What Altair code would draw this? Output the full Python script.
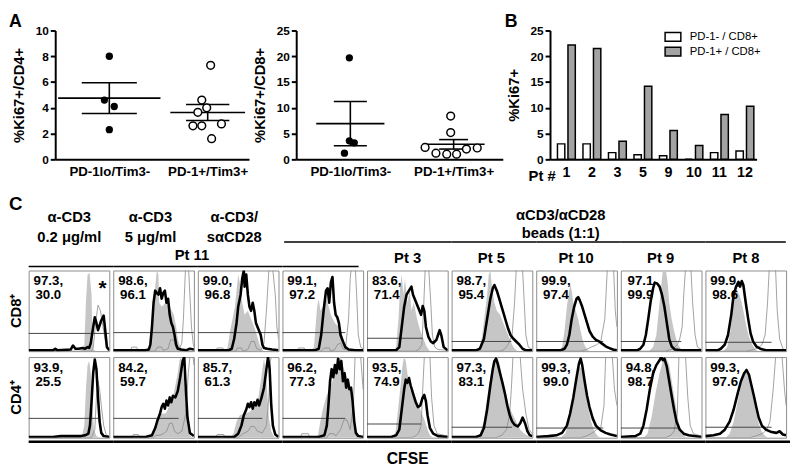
import altair as alt
import pandas as pd

FONT = "Liberation Sans"

# ---------------- Panel A data ----------------
group_names = ["PD-1lo/Tim3-", "PD-1+/Tim3+"]
a1_lo = [8.0, 4.6, 4.1, 2.3]
a1_lo_jit = [0, -5, 5, 0]
a1_hi = [7.3, 4.6, 3.65, 4.0, 2.6, 2.6, 2.75, 1.6]
a1_hi_jit = [3, -6, -10, -1, -15, -6, 14, 4]
a2_lo = [19.7, 3.6, 3.2, 1.2]
a2_lo_jit = [-1, -1, 4, -6]
a2_hi = [8.4, 5.2, 2.3, 1.2, 1.0, 1.0, 2.0, 2.2]
a2_hi_jit = [-3, -3, -29, -18, -7, 3, 13, 24]

# ---------------- Panel B data ----------------
pts = ["1", "2", "3", "5", "9", "10", "11", "12"]
pd1_neg = [3.0, 3.0, 1.3, 0.9, 0.7, 0.0, 1.3, 1.6]
pd1_pos = [22.2, 21.5, 3.5, 14.2, 5.6, 2.7, 8.7, 10.3]
series = ["PD-1- / CD8+", "PD-1+ / CD8+"]
series_fill = ["white", "#a3a3a3"]

# ---------------- Panel C data (CFSE histograms, x/y in % of panel) ----------------
grey_cd8 = [
    [[0,0],[62,0],[66,1],[69,8],[71,60],[73,95],[75.5,97],[78,70],[79,20],[80,3],[83,0],[100,0]],
    [[0,0],[40,0],[44,3],[47,20],[50,45],[52,80],[54,100],[56,95],[57,60],[60,55],[65,60],[70,55],[75,45],[78,30],[80,15],[83,5],[86,0],[100,0]],
    [[0,0],[34,0],[37,5],[40,25],[43,40],[46,55],[48,75],[50,95],[52,85],[55,60],[58,45],[62,50],[66,40],[70,30],[73,20],[76,10],[79,3],[82,0],[100,0]],
    [[0,0],[35,0],[39,5],[41,30],[43,55],[45,65],[47,50],[50,55],[53,70],[56,60],[60,45],[65,35],[70,30],[74,20],[77,10],[80,3],[84,0],[100,0]],
    [[0,0],[32,0],[36,5],[39,40],[41,80],[43,95],[45,70],[47,90],[50,60],[53,75],[55,50],[58,60],[62,40],[66,25],[70,15],[74,5],[78,0],[100,0]],
    [[0,0],[30,0],[35,5],[38,20],[41,45],[44,70],[46,95],[48,100],[50,80],[53,60],[56,50],[60,45],[64,35],[68,25],[72,15],[75,8],[78,3],[82,0],[100,0]],
    [[0,0],[28,0],[32,5],[35,25],[38,55],[40,70],[42,83],[44,75],[46,60],[49,50],[52,40],[55,25],[58,12],[61,5],[64,1],[68,0],[100,0]],
    [[0,0],[35,0],[40,5],[44,20],[47,50],[50,80],[52,100],[56,100],[58,85],[60,60],[63,40],[66,25],[70,10],[74,3],[78,0],[100,0]],
    [[0,0],[22,0],[27,5],[31,25],[34,55],[37,80],[39,75],[42,70],[45,60],[48,45],[51,30],[54,18],[58,8],[62,2],[66,0],[100,0]],
]
thin_cd8 = [
    [[0,0],[78,0],[80,4],[83,35],[86,57],[89,50],[93,25],[96,8],[99,2],[100,1]],
    [[0,0],[21,0],[23,5],[29,5],[31,0],[52,0],[55,5],[60,5],[62,1],[68,3],[71,14],[75,14],[78,4],[82,2],[85,10],[87,40],[89,90],[90,110],[93,110],[95,70],[97,30],[99,10],[100,5]],
    [[0,0],[22,0],[24,4],[31,4],[33,0],[47,0],[49,4],[54,4],[56,0],[62,2],[66,12],[70,12],[73,3],[78,1],[82,10],[85,50],[88,100],[92,110],[96,70],[98,30],[100,15]],
    [[0,0],[18,0],[20,4],[27,4],[29,0],[48,0],[52,4],[58,4],[60,0],[65,2],[68,8],[72,10],[75,3],[78,2],[82,40],[84,90],[86,110],[90,110],[92,70],[94,20],[97,5],[100,3]],
    [[0,0],[60,0],[64,2],[68,8],[70,50],[72,100],[76,110],[79,60],[81,20],[84,5],[88,2],[100,1]],
    [[0,0],[60,0],[65,2],[70,8],[75,20],[78,60],[80,100],[84,110],[88,100],[90,60],[92,20],[95,5],[100,2]],
    [[0,0],[55,0],[62,2],[68,5],[75,8],[80,12],[85,40],[88,100],[92,110],[96,100],[98,50],[100,30]],
    [[0,0],[55,0],[65,3],[70,8],[73,15],[76,30],[78,70],[80,100],[84,110],[87,100],[89,60],[92,20],[95,5],[100,2]],
    [[0,0],[50,0],[60,2],[65,4],[70,8],[74,20],[77,60],[79,100],[83,110],[87,100],[89,50],[92,15],[96,3],[100,1]],
]
black_cd8 = [
    [[0,1],[30,1],[33,3],[36,1],[52,2],[55,7],[58,3],[62,3],[67,4],[70,3],[73,5],[75,4],[77,10],[80,30],[82,42],[84,35],[86,26],[90,38],[93,44],[95,25],[97,5],[100,1]],
    [[0,1],[40,1],[44,2],[46,8],[48,30],[50,60],[52,75],[54,72],[56,70],[58,78],[60,65],[62,72],[64,75],[66,60],[68,65],[70,45],[72,35],[74,30],[76,20],[78,8],[80,3],[84,2],[90,1],[95,3],[100,2]],
    [[0,1],[38,1],[42,3],[45,15],[48,35],[50,55],[53,70],[55,90],[57,100],[58,80],[60,95],[62,70],[64,55],[66,50],[68,60],[70,50],[72,35],[74,30],[76,25],[78,20],[80,8],[82,4],[86,3],[92,2],[100,1]],
    [[0,1],[40,1],[45,3],[48,20],[51,50],[54,75],[56,78],[58,60],[60,85],[62,92],[64,60],[66,45],[68,42],[70,35],[72,20],[75,12],[78,5],[82,2],[90,1],[100,1]],
    [[0,1],[36,1],[40,5],[43,30],[46,55],[49,70],[52,75],[55,80],[57,70],[59,65],[61,60],[63,55],[65,50],[67,45],[69,56],[71,50],[73,30],[76,18],[79,12],[82,10],[84,12],[86,14],[88,20],[90,26],[92,20],[95,5],[100,1]],
    [[0,1],[30,1],[35,3],[40,15],[44,40],[48,65],[51,78],[53,82],[56,75],[59,65],[62,55],[65,45],[67,38],[70,28],[73,20],[76,16],[80,12],[84,8],[88,3],[92,1],[100,1]],
    [[0,1],[30,1],[35,3],[38,8],[41,20],[44,40],[47,55],[50,65],[52,67],[54,63],[57,55],[60,45],[63,35],[66,25],[70,18],[74,14],[78,12],[82,9],[86,6],[90,4],[95,2],[100,1]],
    [[0,1],[20,1],[24,3],[28,8],[31,20],[34,40],[37,62],[40,78],[42,85],[45,84],[48,80],[51,70],[54,55],[57,35],[60,15],[63,6],[67,2],[75,1],[100,1]],
    [[0,1],[15,1],[19,3],[24,8],[28,20],[32,45],[35,70],[38,80],[41,86],[43,80],[45,87],[47,82],[50,60],[53,40],[56,22],[59,12],[63,6],[68,3],[75,1],[100,1]],
]
grey_cd4 = [
    [[0,0],[60,0],[66,2],[69,15],[71,60],[73,90],[75,95],[77,80],[79,40],[81,10],[84,2],[88,0],[100,0]],
    [[0,0],[42,0],[47,3],[52,15],[56,25],[60,30],[65,30],[70,40],[75,55],[78,70],[80,80],[82,95],[84,100],[86,90],[88,70],[90,40],[92,15],[95,3],[98,0],[100,0]],
    [[0,0],[40,0],[44,5],[48,20],[52,28],[58,30],[64,32],[70,38],[75,50],[78,70],[80,85],[82,98],[84,85],[86,55],[88,25],[91,8],[95,0],[100,0]],
    [[0,0],[40,0],[44,3],[47,20],[50,35],[54,50],[58,60],[62,70],[66,85],[69,100],[72,100],[75,90],[78,80],[82,70],[86,55],[88,35],[90,15],[93,3],[96,0],[100,0]],
    [[0,0],[30,0],[35,5],[38,30],[41,60],[44,90],[46,100],[48,95],[50,80],[53,60],[56,55],[60,50],[64,40],[68,30],[72,20],[75,10],[78,3],[82,0],[100,0]],
    [[0,0],[30,0],[35,5],[40,20],[44,50],[48,75],[52,90],[55,98],[57,100],[60,90],[63,70],[67,55],[71,40],[75,30],[80,20],[85,10],[90,5],[95,2],[100,0]],
    [[0,0],[30,0],[36,5],[42,25],[46,50],[50,75],[54,88],[57,85],[60,65],[64,40],[68,20],[72,8],[76,2],[80,0],[100,0]],
    [[0,0],[28,0],[33,5],[38,25],[43,55],[48,80],[52,95],[56,100],[60,90],[64,65],[68,40],[72,18],[76,6],[80,1],[84,0],[100,0]],
    [[0,0],[25,0],[30,5],[35,20],[40,45],[45,70],[50,82],[54,75],[58,55],[62,35],[66,18],[70,7],[74,2],[78,0],[100,0]],
]
thin_cd4 = [
    [[0,0],[78,0],[82,10],[84,50],[86,70],[88,60],[90,40],[93,15],[96,4],[100,1]],
    [[0,0],[23,0],[25,4],[31,4],[33,0],[50,0],[53,3],[58,3],[62,5],[66,8],[70,18],[73,18],[76,8],[80,5],[85,8],[90,30],[93,80],[96,110],[99,100],[100,90]],
    [[0,0],[22,0],[24,4],[32,4],[34,0],[50,0],[56,5],[62,8],[66,14],[70,14],[74,8],[80,6],[85,15],[88,50],[90,95],[93,110],[97,110],[100,100]],
    [[0,0],[22,0],[24,5],[32,5],[34,0],[55,0],[58,5],[64,5],[66,2],[72,10],[76,22],[80,22],[84,10],[88,40],[90,100],[93,110],[97,100],[100,60]],
    [[0,0],[55,0],[60,2],[64,6],[67,15],[69,60],[71,100],[75,110],[78,100],[80,50],[83,15],[87,5],[100,2]],
    [[0,0],[55,0],[62,3],[68,10],[72,30],[74,60],[76,100],[80,110],[85,100],[88,60],[92,30],[96,10],[100,5]],
    [[0,0],[55,0],[62,2],[68,5],[75,10],[80,12],[84,40],[86,100],[90,110],[94,105],[97,60],[100,40]],
    [[0,0],[55,0],[62,3],[66,8],[70,30],[72,100],[76,110],[80,105],[83,50],[86,15],[90,5],[100,2]],
    [[0,0],[55,0],[65,3],[72,6],[76,10],[80,20],[84,60],[87,100],[91,110],[95,100],[98,60],[100,40]],
]
black_cd4 = [
    [[0,1],[30,1],[40,2],[55,2],[65,2],[70,3],[74,5],[76,15],[78,45],[80,80],[82,97],[84,85],[86,50],[88,20],[90,6],[93,2],[100,1]],
    [[0,1],[40,1],[48,3],[52,12],[55,22],[58,30],[60,38],[62,42],[64,36],[66,46],[68,40],[70,50],[72,44],[74,52],[77,50],[80,58],[83,75],[86,95],[88,100],[90,60],[92,25],[95,6],[100,2]],
    [[0,1],[45,1],[50,5],[54,15],[57,28],[60,35],[62,42],[64,38],[66,44],[68,36],[70,44],[72,40],[74,47],[76,40],[79,50],[82,62],[85,85],[87,100],[89,85],[91,40],[93,15],[96,4],[100,1]],
    [[0,1],[45,1],[52,3],[55,15],[57,40],[59,70],[61,85],[63,75],[65,90],[67,80],[69,98],[71,85],[73,95],[75,70],[77,80],[79,62],[81,72],[83,60],[85,62],[87,45],[89,20],[91,6],[94,2],[100,1]],
    [[0,1],[30,1],[36,3],[40,10],[43,35],[46,60],[48,72],[50,68],[52,74],[54,65],[57,55],[60,45],[63,38],[66,40],[69,50],[71,53],[73,45],[75,28],[78,12],[82,5],[88,2],[100,1]],
    [[0,1],[30,1],[36,3],[40,12],[44,35],[48,65],[51,85],[53,95],[55,98],[57,92],[60,80],[63,68],[66,55],[69,40],[72,28],[75,20],[78,16],[82,14],[85,18],[88,25],[91,18],[94,8],[97,3],[100,2]],
    [[0,1],[15,2],[25,3],[32,6],[38,15],[42,30],[46,50],[50,75],[53,92],[55,98],[57,90],[60,70],[63,52],[66,38],[70,24],[74,15],[80,9],[86,6],[92,4],[100,2]],
    [[0,1],[18,2],[24,5],[28,15],[32,35],[36,60],[40,80],[44,90],[48,96],[50,100],[52,96],[54,98],[57,88],[60,70],[63,52],[66,35],[69,20],[73,10],[78,5],[84,3],[100,1]],
    [[0,2],[10,3],[18,5],[24,10],[30,20],[35,35],[40,55],[44,70],[48,80],[51,84],[54,78],[57,65],[60,52],[63,38],[66,25],[70,15],[75,10],[82,7],[88,6],[92,8],[96,4],[100,3]],
]
gate_cd8_y = [22, 23, 23, 23, 16, 12, 12, 12, 11]
gate_cd8_x = [100, 100, 100, 78, 69, 74, 83, 75, 82]
gate_cd4_y = [24, 24, 24, 24, 17, 13, 12, 12, 13]
gate_cd4_x = [86, 81, 80, 78, 67, 75, 83, 72, 82]
nums_cd8 = ["97.3,\n30.0", "98.6,\n96.1", "99.0,\n96.8", "99.1,\n97.2", "83.6,\n71.4",
            "98.7,\n95.4", "99.9,\n97.4", "97.1\n99.9", "99.9,\n98.6"]
nums_cd4 = ["93.9,\n25.5", "84.2,\n59.7", "85.7,\n61.3", "96.2,\n77.3", "93.5,\n74.9",
            "97.3,\n83.1", "99.3,\n99.0", "94.8,\n98.7", "99.3,\n97.6"]
row_labels = ["CD8⁺", "CD4⁺"]

# header / footer texts of panel C (position in panel units, 0 = left edge of first panel)
cond_text = ["α-CD3\n0.2 μg/ml", "α-CD3\n5 μg/ml", "α-CD3/\nsαCD28"]
cond_pos = [0.48, 1.44, 2.43]
beads_text = ["αCD3/αCD28\nbeads (1:1)"]
beads_pos = [6.29]
pt11_text = ["Pt 11"]
pt11_pos = [1.93]
pt_text = ["Pt 3", "Pt 5", "Pt 10", "Pt 9", "Pt 8"]
pt_pos = [4.48, 5.47, 6.47, 7.47, 8.48]
pt11_span = [0.0, 3.9]
beads_span = [3.02, 8.95]
foot_span = [-0.035, 9.0]
foot_text = ["CFSE"]
foot_pos = [4.48]

NOVIEW = alt.ViewBackground(stroke="transparent")
TOP_H = 131
CELL = 82
STEP = 86          # cell width + column spacing
U = 100 / CELL     # data units per pixel inside a cell


def scatter_panel(lo, lo_jit, hi, hi_jit, ytitle, ymax, ystep, xdom, pxunit,
                  width, mean_hw, cap_hw, letter):
    rows = [{"g": 1, "v": v, "xp": 1 + j / pxunit} for v, j in zip(lo, lo_jit)]
    rows += [{"g": 2, "v": v, "xp": 2 + j / pxunit} for v, j in zip(hi, hi_jit)]
    df = pd.DataFrame(rows)
    xsc = alt.Scale(domain=xdom, nice=False, zero=False)
    ysc = alt.Scale(domain=[0, ymax], nice=False)
    xaxis = alt.Axis(values=[1, 2], ticks=False, labelFontSize=13.5, labelPadding=5,
                     labelExpr=f"datum.value == 1 ? '{group_names[0]}' : '{group_names[1]}'")
    yaxis = alt.Axis(values=list(range(0, ymax + 1, ystep)), titlePadding=9,
                     labelOverlap=False)

    def X(field):
        return alt.X(field, scale=xsc, axis=xaxis, title=None)

    def Y(field):
        return alt.Y(field, scale=ysc, axis=yaxis, title=ytitle)

    base = alt.Chart(df)
    stats = base.transform_aggregate(
        m="mean(v)", se="stderr(v)", groupby=["g"]
    ).transform_calculate(
        lo="datum.m - datum.se", hi="datum.m + datum.se",
        mx1=f"datum.g - (datum.g == 1 ? {mean_hw[0]} : {mean_hw[1]})",
        mx2=f"datum.g + (datum.g == 1 ? {mean_hw[0]} : {mean_hw[1]})",
        cx1=f"datum.g - (datum.g == 1 ? {cap_hw[0]} : {cap_hw[1]})",
        cx2=f"datum.g + (datum.g == 1 ? {cap_hw[0]} : {cap_hw[1]})",
    )
    rk = dict(color="black", strokeWidth=1.6)
    mean_rule = stats.mark_rule(**rk).encode(x=X("mx1:Q"), x2="mx2:Q", y=Y("m:Q"))
    cap_lo = stats.mark_rule(**rk).encode(x=X("cx1:Q"), x2="cx2:Q", y=Y("lo:Q"))
    cap_hi = stats.mark_rule(**rk).encode(x=X("cx1:Q"), x2="cx2:Q", y=Y("hi:Q"))
    vert = stats.mark_rule(**rk).encode(x=X("g:Q"), y=Y("lo:Q"), y2="hi:Q")
    filled = base.transform_filter("datum.g == 1").mark_circle(
        size=55, color="black", opacity=1).encode(x=X("xp:Q"), y=Y("v:Q"))
    open_ = base.transform_filter("datum.g == 2").mark_point(
        shape="circle", size=62, filled=True, fill="white", stroke="black",
        strokeWidth=1.5, opacity=1).encode(x=X("xp:Q"), y=Y("v:Q"))
    layers = [mean_rule, cap_lo, cap_hi, vert, filled, open_]
    if letter:
        layers.append(alt.Chart(pd.DataFrame({"t": [letter]})).mark_text(
            fontSize=18, fontWeight="bold", align="left", baseline="alphabetic",
            color="black").encode(text="t:N", x=alt.value(-47), y=alt.value(-4)))
    return alt.layer(*layers).properties(width=width, height=TOP_H, view=NOVIEW)


A1 = scatter_panel(a1_lo, a1_lo_jit, a1_hi, a1_hi_jit, "%Ki67+/CD4+", 10, 2,
                   [0.45, 2.42], 100, 197, (0.52, 0.38), (0.28, 0.22), "A")
A2 = scatter_panel(a2_lo, a2_lo_jit, a2_hi, a2_hi_jit, "%Ki67+/CD8+", 25, 5,
                   [0.476, 2.476], 105, 210, (0.33, 0.30), (0.16, 0.14), None)

# ---- B ----
brows = [{"pt": p, "s": series[0], "v": v} for p, v in zip(pts, pd1_neg)]
brows += [{"pt": p, "s": series[1], "v": v} for p, v in zip(pts, pd1_pos)]
dfb = pd.DataFrame(brows)
bars = alt.Chart(dfb).mark_bar(stroke="black", strokeWidth=1.5).encode(
    x=alt.X("pt:N", sort=pts, title=None,
            scale=alt.Scale(paddingInner=0.3, paddingOuter=0.2, align=0.73),
            axis=alt.Axis(labelAngle=0, ticks=False, labelFontSize=14.5, labelPadding=6)),
    xOffset=alt.XOffset("s:N", sort=series, scale=alt.Scale(paddingInner=0.3)),
    y=alt.Y("v:Q", title="%Ki67+", scale=alt.Scale(domain=[0, 25], nice=False),
            axis=alt.Axis(values=[0, 5, 10, 15, 20, 25], titlePadding=9, labelOverlap=False)),
    fill=alt.Fill("s:N", sort=series, scale=alt.Scale(domain=series, range=series_fill),
                  legend=None),
)
legend_layers = []
for k in range(2):
    dfl = pd.DataFrame({"s": [series[k]]})
    legend_layers.append(alt.Chart(dfl).mark_rect(
        fill=series_fill[k], stroke="black", strokeWidth=1.5).encode(
        x=alt.value(117), x2=alt.value(133),
        y=alt.value(2 + 15 * k), y2=alt.value(11 + 15 * k)))
    legend_layers.append(alt.Chart(dfl).mark_text(
        fontSize=11.5, align="left", baseline="middle", color="black", font=FONT).encode(
        text="s:N", x=alt.value(142), y=alt.value(7 + 15 * k)))
ptlab = alt.Chart(pd.DataFrame({"t": ["Pt #"]})).mark_text(
    fontSize=15, fontWeight="bold", align="center", baseline="middle", color="black"
).encode(text="t:N", x=alt.value(-8), y=alt.value(TOP_H + 17))
bletter = alt.Chart(pd.DataFrame({"t": ["B"]})).mark_text(
    fontSize=18, fontWeight="bold", align="left", baseline="alphabetic", color="black"
).encode(text="t:N", x=alt.value(-46), y=alt.value(-4))
B = alt.layer(bars, ptlab, bletter, *legend_layers).properties(
    width=210, height=TOP_H, view=NOVIEW)

spacer = alt.Chart(pd.DataFrame({"a": [0]})).mark_point(opacity=0).encode(
    x=alt.value(0), y=alt.value(0)).properties(width=1, height=TOP_H, view=NOVIEW)
inner = alt.hconcat(A1, A2, B, spacing=48, bounds="flush")
top_row = alt.hconcat(spacer, inner, spacing=26, bounds="flush")

# ---- C: histogram grid with its header and footer drawn in the cells ----
recs = []
for cell, greys, thins, blacks, gx, gy, nums in [
    ("CD8", grey_cd8, thin_cd8, black_cd8, gate_cd8_x, gate_cd8_y, nums_cd8),
    ("CD4", grey_cd4, thin_cd4, black_cd4, gate_cd4_x, gate_cd4_y, nums_cd4),
]:
    for p in range(9):
        for kind, curve in (("grey", greys[p]), ("thin", thins[p]), ("black", blacks[p])):
            for j, (x, y) in enumerate(curve):
                recs.append(dict(cell=cell, panel=p, kind=kind, j=j, x=x, y=y))
        recs.append(dict(cell=cell, panel=p, kind="gate", x=0, x2=gx[p], y=gy[p]))
        recs.append(dict(cell=cell, panel=p, kind="label", text=nums[p]))
recs.append(dict(cell="CD8", panel=0, kind="star", text="*"))
recs.append(dict(cell="CD8", panel=0, kind="row", text=row_labels[0]))
recs.append(dict(cell="CD4", panel=0, kind="row", text=row_labels[1]))
recs.append(dict(cell="CD8", panel=0, kind="letter", text="C"))


def add_texts(kind, cell, texts, poss):
    for t, pos in zip(texts, poss):
        p = min(int(pos), 8)
        recs.append(dict(cell=cell, panel=p, kind=kind, text=t, x=(pos - p) * STEP * U))


def add_span(kind, cell, span):
    a, b = span
    for p in range(9):
        lo, hi = max(a, p), min(b, p + 1)
        if hi > lo:
            recs.append(dict(cell=cell, panel=p, kind=kind,
                             x=(lo - p) * STEP * U, x2=(hi - p) * STEP * U))


add_texts("cond", "CD8", cond_text, cond_pos)
add_texts("beads", "CD8", beads_text, beads_pos)
add_texts("pt11", "CD8", pt11_text, pt11_pos)
add_texts("pt", "CD8", pt_text, pt_pos)
add_texts("foot", "CD4", foot_text, foot_pos)
add_span("line_beads", "CD8", beads_span)
add_span("line_pt11", "CD8", pt11_span)
add_span("line_foot", "CD4", foot_span)
dfg = pd.DataFrame(recs)

bold = dict(fontWeight="bold", color="black", font=FONT)
xs = alt.Scale(domain=[0, 100], nice=False, zero=False)
ys = alt.Scale(domain=[0, 100], nice=False)


def f(kind):
    return alt.Chart().transform_filter(f"datum.kind == '{kind}'")


g_area = f("grey").mark_area(color="#c6c6c6", clip=True, opacity=1).encode(
    x=alt.X("x:Q", scale=xs, axis=None), y=alt.Y("y:Q", scale=ys, axis=None))
g_thin = f("thin").mark_line(color="#8a8a8a", strokeWidth=0.8, clip=True).encode(
    x="x:Q", y="y:Q")
g_gate = f("gate").mark_rule(color="#444444", strokeWidth=1).encode(
    x="x:Q", x2="x2:Q", y="y:Q")
g_black = f("black").mark_line(color="black", strokeWidth=2.6, clip=True,
                                strokeJoin="round").encode(x="x:Q", y="y:Q")
g_lab = f("label").mark_text(fontSize=13.5, align="center", baseline="alphabetic",
                             lineBreak="\n", lineHeight=14, **bold).encode(
    text="text:N", x=alt.value(20), y=alt.value(15))
g_star = f("star").mark_text(fontSize=21, align="center", baseline="alphabetic", **bold).encode(
    text="text:N", x=alt.value(75), y=alt.value(25))
g_row = f("row").mark_text(fontSize=15, align="center", baseline="middle", angle=270,
                           **bold).encode(text="text:N", x=alt.value(-13), y=alt.value(41))
g_letter = f("letter").mark_text(fontSize=19, align="left", baseline="alphabetic",
                                 **bold).encode(text="text:N", x=alt.value(-20), y=alt.value(-61))
g_cond = f("cond").mark_text(fontSize=15, align="center", baseline="alphabetic",
                             lineBreak="\n", lineHeight=20, **bold).encode(
    text="text:N", x="x:Q", y=alt.value(-49))
g_beads = f("beads").mark_text(fontSize=15, align="center", baseline="alphabetic",
                               lineBreak="\n", lineHeight=18, **bold).encode(
    text="text:N", x="x:Q", y=alt.value(-51))
g_pt11 = f("pt11").mark_text(fontSize=15, align="center", baseline="alphabetic", **bold).encode(
    text="text:N", x="x:Q", y=alt.value(-11))
g_pt = f("pt").mark_text(fontSize=15, align="center", baseline="alphabetic", **bold).encode(
    text="text:N", x="x:Q", y=alt.value(-8))
g_foot = f("foot").mark_text(fontSize=16, align="center", baseline="alphabetic", **bold).encode(
    text="text:N", x="x:Q", y=alt.value(109))
g_l1 = f("line_beads").mark_rule(color="black", strokeWidth=1.5).encode(
    x="x:Q", x2="x2:Q", y=alt.value(-29))
g_l2 = f("line_pt11").mark_rule(color="black", strokeWidth=1.5).encode(
    x="x:Q", x2="x2:Q", y=alt.value(-4))
g_l3 = f("line_foot").mark_rule(color="black", strokeWidth=2.5).encode(
    x="x:Q", x2="x2:Q", y=alt.value(86))

grid = alt.layer(g_area, g_thin, g_gate, g_black, g_lab, g_star, g_row, g_letter,
                 g_cond, g_beads, g_pt11, g_pt, g_foot, g_l1, g_l2, g_l3).properties(
    width=CELL, height=CELL
).facet(
    row=alt.Row("cell:N", sort=["CD8", "CD4"], title=None, header=alt.Header(labels=False)),
    column=alt.Column("panel:O", title=None, header=alt.Header(labels=False)),
    data=dfg, spacing={"row": 6, "column": STEP - CELL}, bounds="flush",
)

chart = alt.vconcat(top_row, grid, spacing=10).properties(
    padding=0
).configure(font=FONT).configure_view(
    stroke="#8c8c8c", strokeWidth=1
).configure_axis(
    domainColor="black", domainWidth=2, tickColor="black", tickWidth=2, tickSize=5,
    labelColor="black", labelFont=FONT, labelFontWeight="bold", labelFontSize=12,
    labelPadding=2, titleFont=FONT, titleFontWeight="bold", titleFontSize=15,
    titleColor="black", grid=False,
)

chart.save("out.html", embed_options={"renderer": "svg", "actions": False})
